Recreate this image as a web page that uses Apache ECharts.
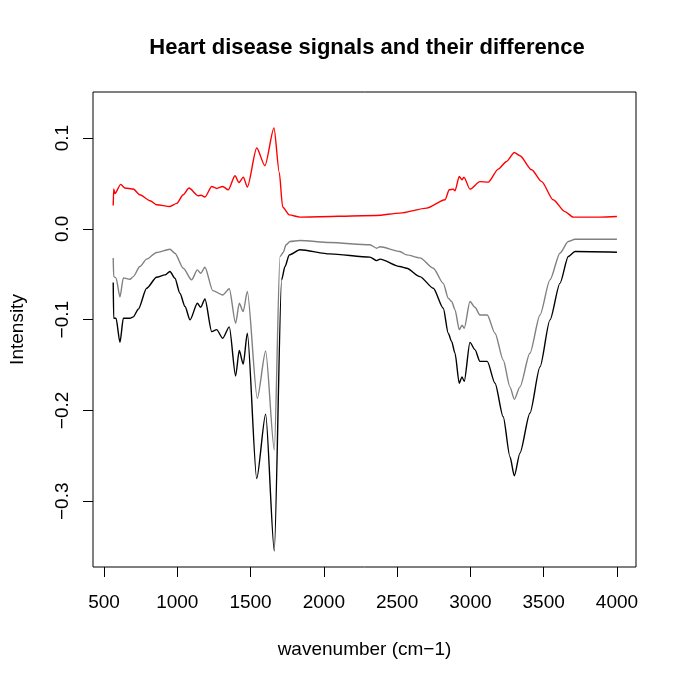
<!DOCTYPE html>
<html>
<head>
<meta charset="utf-8">
<script src="https://cdn.jsdelivr.net/npm/echarts@6/dist/echarts.min.js"></script>
<style>html,body{margin:0;padding:0;background:#fff;}#chart{width:685px;height:685px;}</style>
</head>
<body>
<div id="chart"></div>
<script>
const titleText = "Heart disease signals and their difference";
const xName = "wavenumber (cm\u22121)";
const yName = "Intensity";
const xTicks = [500, 1000, 1500, 2000, 2500, 3000, 3500, 4000];
const yTicks = [-0.3, -0.2, -0.1, 0.0, 0.1];

const blackX = [563, 566, 582, 609, 632, 677, 700, 734, 791, 859, 916, 950, 984, 1018, 1053, 1087, 1137, 1160, 1189, 1235, 1269, 1310, 1355, 1398, 1423, 1450, 1478, 1542, 1603, 1662, 1712, 1735, 1764, 1837, 2042, 2315, 2361, 2383, 2519, 2565, 2656, 2747, 2815, 2849, 2872, 2895, 2924, 2943, 2958, 2997, 3031, 3065, 3115, 3168, 3224, 3270, 3300, 3338, 3406, 3475, 3543, 3611, 3668, 3714, 4000];
const blackY = [-0.059, -0.0985, -0.0985, -0.125, -0.0985, -0.0985, -0.097, -0.0885, -0.0654, -0.0533, -0.0507, -0.047, -0.0544, -0.071, -0.0856, -0.1003, -0.082, -0.0864, -0.0772, -0.1132, -0.111, -0.1205, -0.108, -0.162, -0.134, -0.149, -0.115, -0.275, -0.204, -0.3547, -0.056, -0.0415, -0.0287, -0.023, -0.0276, -0.0312, -0.035, -0.0334, -0.0415, -0.0434, -0.0526, -0.0654, -0.0875, -0.115, -0.124, -0.137, -0.170, -0.163, -0.168, -0.125, -0.133, -0.146, -0.146, -0.170, -0.207, -0.251, -0.272, -0.247, -0.203, -0.152, -0.1003, -0.060, -0.0305, -0.025, -0.0257];

const grayX = [563, 566, 582, 609, 632, 677, 700, 745, 791, 859, 950, 984, 1041, 1098, 1137, 1160, 1189, 1242, 1310, 1355, 1398, 1423, 1450, 1478, 1546, 1603, 1662, 1701, 1723, 1742, 1769, 1837, 2042, 2315, 2361, 2383, 2519, 2565, 2656, 2747, 2815, 2849, 2872, 2895, 2924, 2943, 2958, 2997, 3031, 3065, 3115, 3168, 3224, 3270, 3300, 3338, 3406, 3475, 3543, 3611, 3668, 3714, 4000];
const grayY = [-0.032, -0.0526, -0.054, -0.075, -0.054, -0.0555, -0.0526, -0.0415, -0.0334, -0.026, -0.0224, -0.0268, -0.0434, -0.0562, -0.0452, -0.0489, -0.0423, -0.068, -0.0728, -0.066, -0.104, -0.082, -0.091, -0.069, -0.1867, -0.1345, -0.2437, -0.0305, -0.026, -0.0176, -0.014, -0.0129, -0.0151, -0.0176, -0.0213, -0.0198, -0.025, -0.0287, -0.032, -0.0434, -0.060, -0.0764, -0.080, -0.089, -0.111, -0.106, -0.1095, -0.080, -0.0864, -0.0948, -0.0948, -0.115, -0.1444, -0.174, -0.1878, -0.174, -0.137, -0.0948, -0.0562, -0.0268, -0.014, -0.0114, -0.0114];

const redX = [563, 566, 575, 614, 643, 700, 745, 814, 860, 950, 996, 1041, 1080, 1143, 1162, 1189, 1235, 1269, 1310, 1348, 1394, 1421, 1451, 1478, 1542, 1598, 1660, 1696, 1719, 1764, 1837, 2360, 2519, 2702, 2827, 2856, 2883, 2895, 2924, 2943, 2956, 2997, 3065, 3122, 3190, 3247, 3300, 3338, 3418, 3486, 3565, 3645, 3702, 3884, 4000];
const redY = [0.0257, 0.0438, 0.039, 0.049, 0.045, 0.0438, 0.0375, 0.031, 0.0265, 0.0246, 0.028, 0.0375, 0.0449, 0.0364, 0.037, 0.035, 0.0467, 0.0445, 0.0467, 0.043, 0.0584, 0.051, 0.057, 0.046, 0.089, 0.0695, 0.111, 0.062, 0.024, 0.0154, 0.0129, 0.0147, 0.0173, 0.0228, 0.032, 0.043, 0.0437, 0.042, 0.0577, 0.054, 0.057, 0.0437, 0.052, 0.0515, 0.0658, 0.0742, 0.0841, 0.0805, 0.065, 0.052, 0.032, 0.019, 0.0129, 0.0129, 0.0136];

function pairs(xs, ys) { return xs.map((x, i) => [x, ys[i]]); }
const FONT = "'Liberation Sans', Arial, Helvetica, sans-serif";

const chart = echarts.init(document.getElementById('chart'), null, {renderer: 'canvas'});
chart.setOption({
  animation: false,
  backgroundColor: '#ffffff',
  title: {
    text: titleText, left: 362, top: 32, textAlign: 'center',
    textStyle: {fontFamily: FONT, fontWeight: 'bold', fontSize: 22, color: '#000'}
  },
  grid: {left: 93, right: 49, top: 92, bottom: 118, show: true, borderColor: '#000', borderWidth: 1, backgroundColor: 'transparent'},
  xAxis: {
    type: 'value', min: 425, max: 4130,
    name: xName, nameLocation: 'middle', nameGap: 73,
    nameTextStyle: {fontFamily: FONT, fontSize: 19, color: '#000'},
    axisLine: {show: false, onZero: false},
    splitLine: {show: false},
    axisTick: {show: true, inside: false, length: 10, customValues: xTicks, lineStyle: {color: '#000'}},
    axisLabel: {customValues: xTicks, margin: 26, fontFamily: FONT, fontSize: 19, color: '#000',
      formatter: v => String(Math.round(v))}
  },
  yAxis: {
    type: 'value', min: -0.3724, max: 0.1507,
    name: yName, nameLocation: 'middle', nameGap: 66, nameRotate: 90,
    nameTextStyle: {fontFamily: FONT, fontSize: 19, color: '#000'},
    axisLine: {show: false, onZero: false},
    splitLine: {show: false},
    axisTick: {show: true, inside: false, length: 10, customValues: yTicks, lineStyle: {color: '#000'}},
    axisLabel: {customValues: yTicks, rotate: 90, margin: 21, fontFamily: FONT, fontSize: 19, color: '#000',
      formatter: v => (Math.abs(v) < 1e-9 ? '0.0' : v.toFixed(1).replace('-', '\u2212'))}
  },
  series: [
    {type: 'line', data: pairs(blackX, blackY), showSymbol: false, smooth: 0.25, smoothMonotone: 'x', lineStyle: {color: '#000000', width: 1.4}, z: 2},
    {type: 'line', data: pairs(grayX, grayY), showSymbol: false, smooth: 0.25, smoothMonotone: 'x', lineStyle: {color: '#808080', width: 1.4}, z: 3},
    {type: 'line', data: pairs(redX, redY), showSymbol: false, smooth: 0.25, smoothMonotone: 'x', lineStyle: {color: '#ff0000', width: 1.4}, z: 4}
  ]
});
</script>
</body>
</html>
